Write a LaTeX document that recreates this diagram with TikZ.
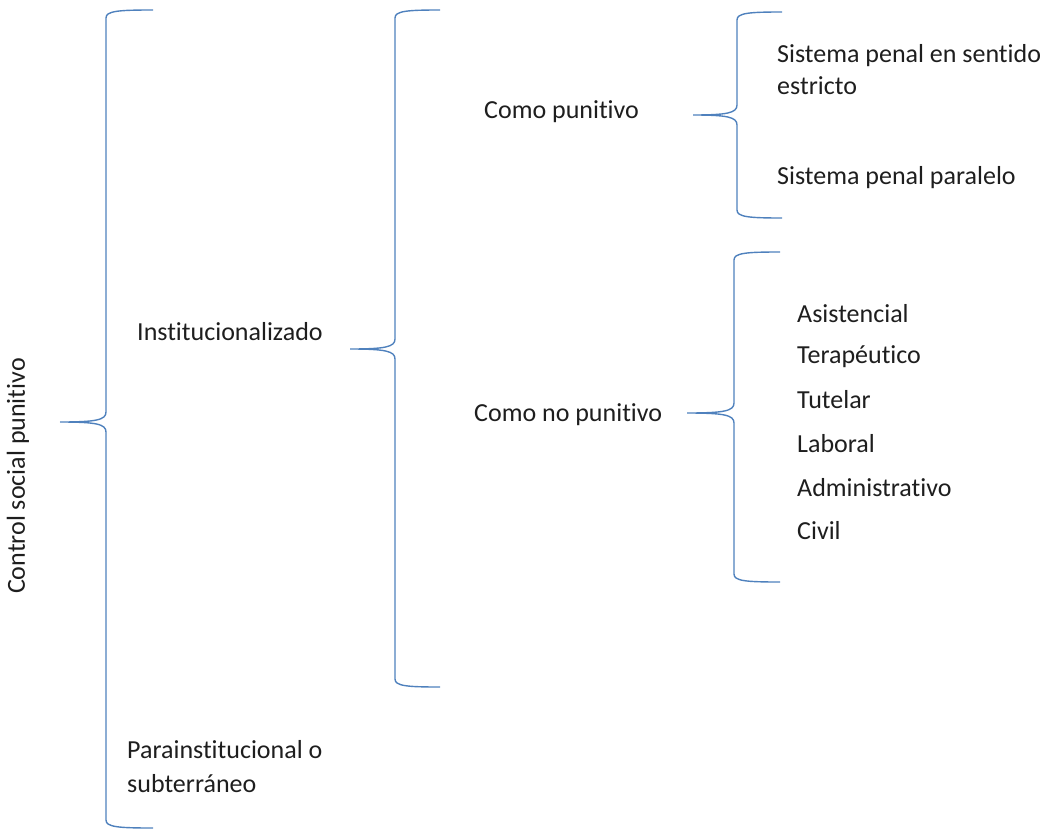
\documentclass[tikz,border=0pt]{standalone}
\usepackage{fontspec}
\setmainfont{Carlito}[Ligatures=NoCommon]
\begin{document}
\begin{tikzpicture}[x=1pt,y=-1pt,
  br/.style={draw={rgb,255:red,79;green,129;blue,189},line width=1.4pt},
  lbl/.style={anchor=west,inner sep=0pt,font=\fontsize{26}{30}\selectfont,text={rgb,255:red,30;green,30;blue,30}}]
\useasboundingbox (0,0) rectangle (1048,832);
% #1 xv, #2 ytop, #3 ymid, #4 ybot, #5 xend, #6 xtip
\newcommand\cbrace[6]{%
  \draw[br] (#5,#2) .. controls (#1+12,#2) and (#1,#2+1) .. (#1,#2+8)
    -- (#1,#3-10) .. controls (#1,#3-2) and (#1-10,#3) .. (#6,#3)
    (#1,#3+10) .. controls (#1,#3+2) and (#1-10,#3) .. (#6,#3)
    (#1,#3+10) -- (#1,#4-8) .. controls (#1,#4-1) and (#1+12,#4) .. (#5,#4);}
\cbrace{106}{10}{422}{828}{153}{60}
\cbrace{395}{10}{349}{687}{440}{350}
\cbrace{737}{12}{115}{218}{782}{693}
\cbrace{734}{252}{413}{582}{780}{687}
\node[lbl,anchor=center,rotate=90] (csp) at (18,476) {Control social punitivo};
\node[lbl] (inst) at (137,332) {Institucionalizado};
\node[lbl] (para1) at (127,750) {Parainstitucional o};
\node[lbl] (para2) at (127,784) {subterráneo};
\node[lbl] (cp) at (484,112) {Como punitivo};
\node[lbl] (cnp) at (474,415) {Como no punitivo};
\node[lbl] (spe1) at (777,56) {Sistema penal en sentido};
\node[lbl] (spe2) at (777,86) {estricto};
\node[lbl] (spp) at (777,178) {Sistema penal paralelo};
\node[lbl] (a1) at (797,314) {Asistencial};
\node[lbl] (a2) at (797,357) {Terapéutico};
\node[lbl] (a3) at (797,400) {Tutelar};
\node[lbl] (a4) at (797,444) {Laboral};
\node[lbl] (a5) at (797,488) {Administrativo};
\node[lbl] (a6) at (797,531) {Civil};
\end{tikzpicture}
\end{document}
